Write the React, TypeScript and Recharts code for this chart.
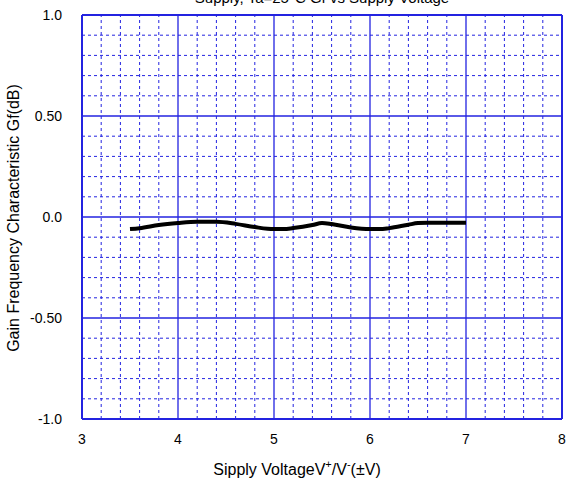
import { LineChart, Line, XAxis, YAxis, ReferenceLine } from 'recharts';

const voltage = [3.5, 3.6, 3.8, 4.0, 4.2, 4.4, 4.6, 4.8, 5.0, 5.1, 5.2, 5.4, 5.5, 5.6, 5.8, 6.0, 6.1, 6.2, 6.4, 6.5, 6.6, 6.8, 7.0];
const gain = [-0.06, -0.056, -0.04, -0.03, -0.024, -0.024, -0.034, -0.05, -0.06, -0.06, -0.055, -0.04, -0.03, -0.035, -0.052, -0.06, -0.06, -0.055, -0.038, -0.03, -0.028, -0.028, -0.028];

const xTicks = [3, 4, 5, 6, 7, 8];
const yTicks = [-1, -0.5, 0, 0.5, 1];
const yTickLabels = ['-1.0', '-0.50', '0.0', '0.50', '1.0'];
const xMinor = [3.2, 3.4, 3.6, 3.8, 4.2, 4.4, 4.6, 4.8, 5.2, 5.4, 5.6, 5.8, 6.2, 6.4, 6.6, 6.8, 7.2, 7.4, 7.6, 7.8];
const yMinor = [-0.9, -0.8, -0.7, -0.6, -0.4, -0.3, -0.2, -0.1, 0.1, 0.2, 0.3, 0.4, 0.6, 0.7, 0.8, 0.9];

const data = voltage.map((v, i) => ({ v, g: gain[i] }));

const BLUE = '#2323e0';
const FONT = 'Liberation Sans, Arial, sans-serif';

export default function App() {
  return (
    <div style={{ position: 'absolute', left: 0, top: 0, width: 580, height: 483, background: '#fff', fontFamily: FONT }}>
      <LineChart width={580} height={483} data={data} margin={{ top: 15, right: 18, left: 0, bottom: 0 }}>
        <XAxis
          dataKey="v"
          type="number"
          domain={[3, 8]}
          ticks={xTicks}
          tick={{ fill: '#000', fontSize: 14, fontFamily: FONT }}
          tickLine={false}
          axisLine={false}
          tickMargin={9}
          height={64}
        />
        <YAxis
          type="number"
          domain={[-1, 1]}
          ticks={yTicks}
          tickFormatter={(v) => yTickLabels[yTicks.indexOf(v)]}
          tick={{ fill: '#000', fontSize: 14, fontFamily: FONT }}
          tickLine={false}
          axisLine={false}
          tickMargin={14}
          width={82}
        />
        {xMinor.map((x) => (
          <ReferenceLine key={'xm' + x} x={x} stroke={BLUE} strokeWidth={1} strokeDasharray="3 3" />
        ))}
        {yMinor.map((y) => (
          <ReferenceLine key={'ym' + y} y={y} stroke={BLUE} strokeWidth={1} strokeDasharray="3 3" />
        ))}
        {xTicks.slice(1, -1).map((x) => (
          <ReferenceLine key={'xM' + x} x={x} stroke={BLUE} strokeWidth={1.3} />
        ))}
        {yTicks.slice(1, -1).map((y) => (
          <ReferenceLine key={'yM' + y} y={y} stroke={BLUE} strokeWidth={1.3} />
        ))}
        <ReferenceLine x={3} stroke={BLUE} strokeWidth={2} />
        <ReferenceLine x={8} stroke={BLUE} strokeWidth={2} />
        <ReferenceLine y={1} stroke={BLUE} strokeWidth={2} />
        <ReferenceLine y={-1} stroke={BLUE} strokeWidth={2} />
        <Line
          dataKey="g"
          type="monotone"
          stroke="#000"
          strokeWidth={4}
          dot={false}
          isAnimationActive={false}
        />
      </LineChart>
      <svg width={580} height={483} style={{ position: 'absolute', left: 0, top: 0, pointerEvents: 'none' }}>
        <text x={322} y={3} textAnchor="middle" fontSize={15} fontFamily={FONT} fill="#000">
          Supply, Ta=25°C  Gf vs Supply Voltage
        </text>
        <text x={297} y={475} textAnchor="middle" fontSize={16} fontFamily={FONT} fill="#000">
          Sipply VoltageV<tspan fontSize={11} dy={-7}>+</tspan>
          <tspan dy={7}>/V</tspan>
          <tspan fontSize={11} dy={-7}>-</tspan>
          <tspan dy={7}>(±V)</tspan>
        </text>
        <text
          x={0}
          y={0}
          transform="translate(19,218) rotate(-90)"
          textAnchor="middle"
          fontSize={16}
          fontFamily={FONT}
          fill="#000"
        >
          Gain Frequency Characteristic Gf(dB)
        </text>
      </svg>
    </div>
  );
}
